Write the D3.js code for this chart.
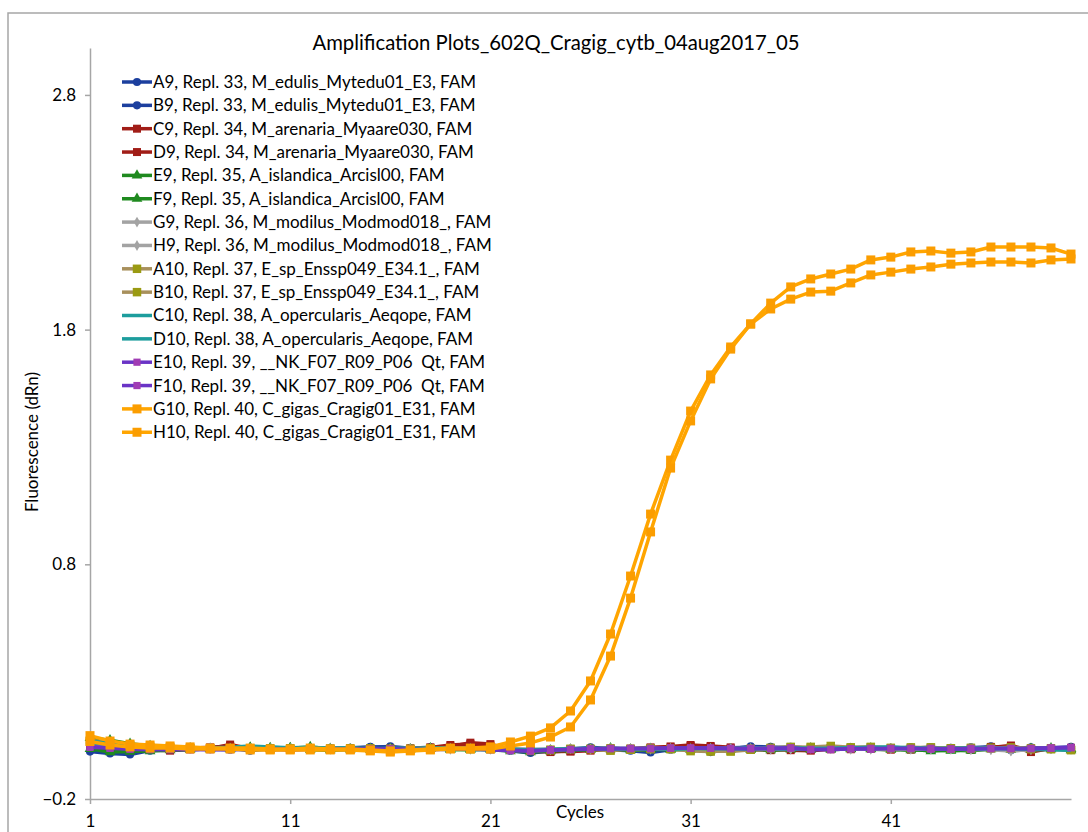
<!DOCTYPE html>
<html>
<head>
<meta charset="utf-8">
<script src="https://cdn.jsdelivr.net/npm/d3@7"></script>
<style>
  html, body { margin: 0; padding: 0; background: #fff; }
  svg { display: block; font-family: Lato, "Open Sans", sans-serif; }
  text { white-space: pre; }
</style>
</head>
<body>
<svg id="chart" width="1088" height="832"></svg>
<script>
// Amplification curves, dRn per cycle, one array per well
const chartTitle = "Amplification Plots_602Q_Cragig_cytb_04aug2017_05";
const xTitle = "Cycles";
const yTitle = "Fluorescence (dRn)";
const cycles = d3.range(1, 51);
const xTickValues = [1, 11, 21, 31, 41];
const yTickValues = [-0.2, 0.8, 1.8, 2.8];

const seriesNames = [
  "A9, Repl. 33, M_edulis_Mytedu01_E3, FAM",
  "B9, Repl. 33, M_edulis_Mytedu01_E3, FAM",
  "C9, Repl. 34, M_arenaria_Myaare030, FAM",
  "D9, Repl. 34, M_arenaria_Myaare030, FAM",
  "E9, Repl. 35, A_islandica_Arcisl00, FAM",
  "F9, Repl. 35, A_islandica_Arcisl00, FAM",
  "G9, Repl. 36, M_modilus_Modmod018_, FAM",
  "H9, Repl. 36, M_modilus_Modmod018_, FAM",
  "A10, Repl. 37, E_sp_Enssp049_E34.1_, FAM",
  "B10, Repl. 37, E_sp_Enssp049_E34.1_, FAM",
  "C10, Repl. 38, A_opercularis_Aeqope, FAM",
  "D10, Repl. 38, A_opercularis_Aeqope, FAM",
  "E10, Repl. 39, __NK_F07_R09_P06  Qt, FAM",
  "F10, Repl. 39, __NK_F07_R09_P06  Qt, FAM",
  "G10, Repl. 40, C_gigas_Cragig01_E31, FAM",
  "H10, Repl. 40, C_gigas_Cragig01_E31, FAM"
];

const A9 = [0.002,-0.006,-0.010,0.006,0.012,0.012,0.014,0.016,0.006,0.014,
            0.012,0.018,0.016,0.018,0.022,0.020,0.012,0.018,0.016,0.014,
            0.012,0.006,-0.004,0.004,0.014,0.016,0.010,0.006,-0.002,0.010,
            0.016,0.000,0.014,0.024,0.022,0.018,0.012,0.020,0.016,0.018,
            0.014,0.020,0.012,0.018,0.016,0.024,0.008,0.014,0.018,0.022];
const B9 = [0.010,0.004,0.000,0.012,0.010,0.016,0.012,0.010,0.014,0.012,
            0.016,0.014,0.012,0.016,0.020,0.024,0.016,0.020,0.014,0.018,
            0.016,0.010,0.006,0.010,0.012,0.020,0.014,0.010,0.008,0.016,
            0.012,0.006,0.018,0.020,0.016,0.022,0.016,0.014,0.020,0.014,
            0.018,0.016,0.020,0.012,0.020,0.018,0.014,0.020,0.012,0.016];
const C9 = [0.030,0.022,0.018,0.010,0.006,0.012,0.014,0.032,0.014,0.010,
            0.012,0.014,0.010,0.012,0.014,0.008,0.016,0.018,0.024,0.040,
            0.034,0.012,0.004,0.000,0.004,0.010,0.008,0.014,0.020,0.024,
            0.030,0.026,0.020,0.012,0.008,0.014,0.010,0.016,0.012,0.018,
            0.014,0.010,0.016,0.014,0.012,0.020,0.028,0.006,0.014,0.018];
const D9 = [0.024,0.016,0.014,0.012,0.010,0.016,0.020,0.026,0.012,0.014,
            0.010,0.012,0.014,0.010,0.012,0.014,0.012,0.020,0.030,0.034,
            0.028,0.010,0.006,0.004,0.002,0.006,0.014,0.010,0.016,0.020,
            0.026,0.022,0.016,0.010,0.012,0.008,0.006,0.012,0.016,0.014,
            0.010,0.014,0.012,0.016,0.010,0.022,0.024,0.000,0.016,0.014];
const E9 = [0.060,0.050,0.036,0.026,0.018,0.016,0.012,0.014,0.020,0.018,
            0.016,0.022,0.014,0.012,0.010,0.014,0.012,0.016,0.012,0.010,
            0.014,0.010,0.006,0.008,0.010,0.012,0.016,0.012,0.014,0.010,
            0.012,0.014,0.010,0.012,0.008,0.012,0.016,0.010,0.014,0.012,
            0.010,0.012,0.004,0.008,0.006,0.012,0.010,0.014,0.016,0.008];
const F9 = [0.014,0.000,0.002,0.004,0.008,0.010,0.014,0.012,0.016,0.014,
            0.018,0.010,0.008,0.012,0.014,0.010,0.012,0.014,0.010,0.012,
            0.010,0.004,0.000,0.004,0.008,0.010,0.012,0.008,0.010,0.012,
            0.010,0.008,0.012,0.010,0.014,0.012,0.010,0.014,0.012,0.016,
            0.012,0.008,0.010,0.006,0.010,0.014,0.012,0.010,0.012,0.014];
const G9 = [0.040,0.030,0.026,0.022,0.020,0.018,0.016,0.014,0.016,0.014,
            0.016,0.014,0.016,0.014,0.014,0.012,0.014,0.016,0.012,0.014,
            0.012,0.012,0.010,0.012,0.014,0.012,0.016,0.014,0.016,0.014,
            0.012,0.014,0.016,0.014,0.012,0.018,0.016,0.014,0.012,0.014,
            0.016,0.014,0.012,0.014,0.010,0.012,0.006,0.010,0.014,0.016];
const H9 = [0.034,0.028,0.024,0.020,0.018,0.016,0.018,0.016,0.014,0.016,
            0.014,0.016,0.012,0.016,0.012,0.014,0.016,0.014,0.016,0.012,
            0.014,0.014,0.012,0.010,0.016,0.014,0.012,0.016,0.012,0.016,
            0.014,0.016,0.012,0.016,0.014,0.012,0.018,0.016,0.014,0.012,
            0.014,0.012,0.016,0.012,0.014,0.010,0.004,0.012,0.016,0.012];
const A10 = [0.050,0.040,0.030,0.024,0.020,0.018,0.016,0.014,0.012,0.016,
             0.014,0.016,0.014,0.016,0.012,0.014,0.012,0.016,0.014,0.012,
             0.014,0.012,0.008,0.010,0.012,0.014,0.016,0.010,0.012,0.014,
             0.004,0.002,0.006,0.014,0.016,0.020,0.022,0.026,0.020,0.022,
             0.016,0.020,0.018,0.016,0.014,0.018,0.016,0.012,0.016,0.010];
const B10 = [0.044,0.036,0.028,0.020,0.018,0.016,0.014,0.016,0.014,0.012,
             0.016,0.012,0.014,0.012,0.016,0.012,0.014,0.012,0.016,0.014,
             0.012,0.010,0.006,0.008,0.014,0.012,0.006,0.014,0.016,0.012,
             0.010,0.006,0.002,0.010,0.018,0.022,0.018,0.016,0.018,0.020,
             0.018,0.016,0.020,0.014,0.018,0.016,0.020,0.016,0.012,0.008];
const C10 = [0.046,0.038,0.030,0.024,0.020,0.018,0.018,0.020,0.026,0.022,
             0.018,0.020,0.016,0.018,0.014,0.016,0.014,0.018,0.016,0.014,
             0.012,0.010,0.008,0.010,0.012,0.014,0.016,0.014,0.012,0.016,
             0.018,0.014,0.016,0.018,0.014,0.012,0.014,0.016,0.018,0.020,
             0.022,0.018,0.016,0.014,0.018,0.016,0.014,0.012,0.010,0.008];
const D10 = [0.040,0.032,0.026,0.022,0.018,0.016,0.018,0.016,0.022,0.020,
             0.016,0.018,0.014,0.016,0.012,0.014,0.016,0.014,0.016,0.012,
             0.010,0.012,0.010,0.012,0.014,0.016,0.012,0.014,0.016,0.012,
             0.014,0.016,0.014,0.012,0.016,0.018,0.016,0.014,0.016,0.018,
             0.020,0.016,0.014,0.016,0.012,0.014,0.016,0.014,0.012,0.010];
const E10 = [0.024,0.018,0.014,0.012,0.010,0.012,0.010,0.012,0.014,0.012,
             0.010,0.012,0.014,0.012,0.014,0.012,0.010,0.012,0.014,0.012,
             0.010,0.006,0.004,0.008,0.012,0.014,0.016,0.014,0.016,0.018,
             0.016,0.018,0.016,0.014,0.016,0.018,0.010,0.012,0.014,0.016,
             0.014,0.016,0.012,0.014,0.012,0.016,0.014,0.016,0.018,0.020];
const F10 = [0.020,0.016,0.012,0.010,0.012,0.010,0.012,0.010,0.012,0.014,
             0.012,0.014,0.012,0.014,0.012,0.014,0.012,0.010,0.012,0.014,
             0.012,0.008,0.006,0.010,0.010,0.012,0.014,0.016,0.014,0.016,
             0.018,0.016,0.014,0.016,0.014,0.016,0.012,0.010,0.014,0.012,
             0.016,0.014,0.016,0.012,0.016,0.014,0.016,0.014,0.016,0.018];
const G10 = [0.070,0.047,0.034,0.030,0.026,0.022,0.017,0.017,0.017,0.013,
             0.013,0.017,0.013,0.013,0.009,0.005,0.009,0.013,0.017,0.017,
             0.022,0.043,0.068,0.103,0.175,0.303,0.503,0.750,1.014,1.244,
             1.453,1.607,1.726,1.824,1.913,1.982,2.016,2.037,2.058,2.097,
             2.109,2.131,2.135,2.126,2.131,2.152,2.152,2.152,2.148,2.122];
const H10 = [0.045,0.030,0.022,0.017,0.017,0.013,0.013,0.013,0.009,0.009,
             0.009,0.009,0.009,0.009,0.005,0.000,0.005,0.009,0.013,0.013,
             0.013,0.026,0.039,0.064,0.107,0.222,0.409,0.656,0.938,1.210,
             1.411,1.590,1.717,1.824,1.888,1.930,1.960,1.964,1.999,2.033,
             2.045,2.058,2.067,2.079,2.084,2.088,2.088,2.084,2.097,2.101];

const seriesValues = [A9, B9, C9, D9, E9, F9, G9, H9, A10, B10, C10, D10, E10, F10, G10, H10];

// Look of each replicate pair: line colour, marker shape and marker colour
const pairStyles = [
  { line: "#1c3f9e", marker: "circle",   fill: "#1c3f9e", size: 52 },
  { line: "#a11d17", marker: "square",   fill: "#a11d17", size: 64 },
  { line: "#1f8a1f", marker: "triangle", fill: "#1f8a1f", size: 50 },
  { line: "#a3a3a3", marker: "diamond",  fill: "#a3a3a3", size: 34 },
  { line: "#a8905c", marker: "square",   fill: "#9a9a12", size: 72 },
  { line: "#1d9d9d", marker: "none",     fill: "none",    size: 0 },
  { line: "#6a34c6", marker: "square",   fill: "#a03cb4", size: 52 },
  { line: "#ffa500", marker: "square",   fill: "#fb9d00", size: 81 }
];
const symbolTypes = {
  circle: d3.symbolCircle, square: d3.symbolSquare,
  triangle: d3.symbolTriangle, diamond: d3.symbolDiamond
};

const series = seriesNames.map((name, i) => ({
  name,
  values: seriesValues[i],
  style: pairStyles[Math.floor(i / 2)]
}));

const svg = d3.select("#chart");
const textColor = "#000";
const labelSize = 17;

// outer chart frame (runs off the right and bottom edges)
svg.append("rect")
  .attr("x", 8).attr("y", 13)
  .attr("width", 1100).attr("height", 840)
  .attr("fill", "#fff").attr("stroke", "#a6a6a6").attr("stroke-width", 1.5);

const x = d3.scaleLinear().domain([1, 50]).range([90, 1071]);
const y = d3.scaleLinear().domain([-0.2, 3.0]).range([799, 48]);

// title
svg.append("text")
  .attr("x", 556).attr("y", 50)
  .attr("text-anchor", "middle")
  .attr("font-size", 20.3)
  .attr("fill", textColor)
  .text(chartTitle);

// axes
const axisColor = "#a6a6a6";
const yAxis = svg.append("g")
  .attr("transform", `translate(${x(1)},0)`)
  .call(d3.axisLeft(y).tickValues(yTickValues).tickSizeInner(5).tickSizeOuter(0)
    .tickPadding(9).tickFormat(d3.format(".1f")));
const xAxis = svg.append("g")
  .attr("transform", `translate(0,${y(-0.2)})`)
  .call(d3.axisBottom(x).tickValues(xTickValues).tickSizeInner(5).tickSizeOuter(0)
    .tickPadding(11).tickFormat(d3.format("d")));
[yAxis, xAxis].forEach(g => {
  g.select(".domain").attr("stroke", axisColor).attr("stroke-width", 1.5);
  g.selectAll(".tick line").attr("stroke", axisColor).attr("stroke-width", 1.5);
  g.selectAll(".tick text").attr("font-size", labelSize).attr("fill", textColor)
    .attr("font-family", "Lato, 'Open Sans', sans-serif");
});

svg.append("text")
  .attr("transform", `translate(38,442) rotate(-90)`)
  .attr("text-anchor", "middle")
  .attr("font-size", labelSize).attr("fill", textColor)
  .text(yTitle);
svg.append("text")
  .attr("x", 580).attr("y", 818)
  .attr("text-anchor", "middle")
  .attr("font-size", labelSize).attr("fill", textColor)
  .text(xTitle);

// curves
const line = d3.line()
  .x((d, i) => x(cycles[i]))
  .y(d => y(d));

const plot = svg.append("g");
series.forEach(s => {
  const g = plot.append("g");
  g.append("path")
    .attr("d", line(s.values))
    .attr("fill", "none")
    .attr("stroke", s.style.line)
    .attr("stroke-width", 3.5)
    .attr("stroke-linejoin", "round");
  if (s.style.marker !== "none") {
    const sym = d3.symbol().type(symbolTypes[s.style.marker]).size(s.style.size);
    g.selectAll("path.m")
      .data(s.values)
      .join("path")
      .attr("class", "m")
      .attr("transform", (d, i) => `translate(${x(cycles[i])},${y(d)})`)
      .attr("d", sym())
      .attr("fill", s.style.fill);
  }
});

// legend
const legend = svg.append("g");
const rowY = i => 82 + i * 23.35;
series.forEach((s, i) => {
  const row = legend.append("g").attr("transform", `translate(0,${rowY(i)})`);
  row.append("line")
    .attr("x1", 122).attr("x2", 152).attr("y1", 0).attr("y2", 0)
    .attr("stroke", s.style.line).attr("stroke-width", 3.5);
  if (s.style.marker !== "none") {
    row.append("path")
      .attr("transform", "translate(137,0)")
      .attr("d", d3.symbol().type(symbolTypes[s.style.marker]).size(s.style.size)())
      .attr("fill", s.style.fill);
  }
  row.append("text")
    .attr("x", 153).attr("y", 0).attr("dy", "0.35em")
    .attr("font-size", labelSize).attr("fill", textColor)
    .text(s.name);
});
</script>
</body>
</html>
